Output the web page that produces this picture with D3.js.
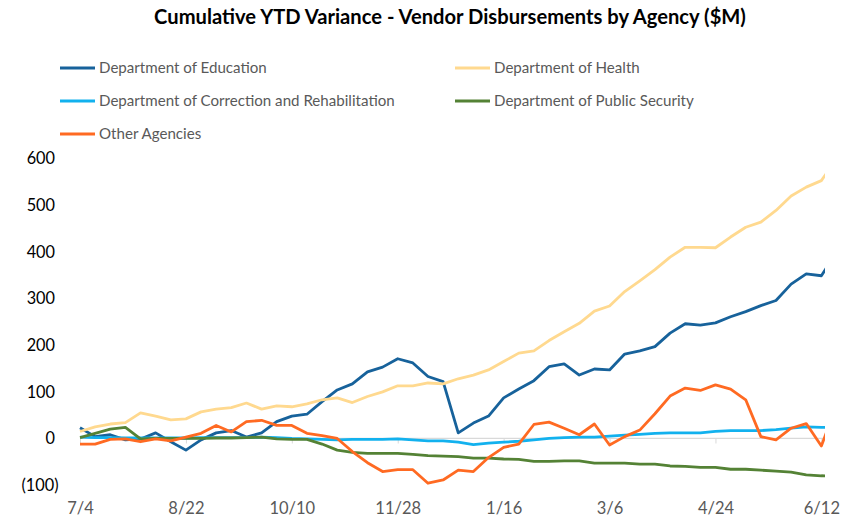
<!DOCTYPE html>
<html>
<head>
<meta charset="utf-8">
<script src="https://cdn.jsdelivr.net/npm/d3@7"></script>
<style>
  html, body { margin: 0; padding: 0; background: #fff; }
  svg { display: block; }
  text { font-family: Lato, "Liberation Sans", sans-serif; }
</style>
</head>
<body>
<div id="chart"></div>
<script>
// ---- data ----
const dates = ["7/4","7/11","7/18","7/25","8/1","8/8","8/15","8/22","8/29","9/5","9/12","9/19","9/26","10/3","10/10","10/17","10/24","10/31","11/7","11/14","11/21","11/28","12/5","12/12","12/19","12/26","1/2","1/9","1/16","1/23","1/30","2/6","2/13","2/20","2/27","3/6","3/13","3/20","3/27","4/3","4/10","4/17","4/24","5/1","5/8","5/15","5/22","5/29","6/5","6/12","6/19"];
const tickDates = ["7/4","8/22","10/10","11/28","1/16","3/6","4/24","6/12"];
const yTicks = [-100, 0, 100, 200, 300, 400, 500, 600];

const education = [23,4,8,-3,-1,12,-7,-25,-3,12,17,3,12,36,48,52,79,104,117,143,153,171,162,133,122,12,33,48,87,106,124,154,160,136,149,147,181,188,197,226,246,243,248,261,272,285,296,331,353,349,400];
const health = [15,25,31,34,55,48,40,42,57,63,66,76,63,70,68,74,83,87,77,90,100,113,113,119,117,128,136,147,165,183,188,210,229,247,273,284,315,338,362,389,410,410,409,432,453,464,489,520,539,553,600];
const correction = [3,2,2,1,1,1,1,1,2,2,2,2,3,2,0,-1,-2,-3,-2,-2,-2,-1,-3,-5,-5,-8,-13,-10,-8,-6,-3,0,2,3,3,5,7,9,11,12,12,12,15,17,17,17,19,22,25,24,24];
const security = [2,11,20,24,-1,0,0,0,0,1,1,2,3,-1,-2,-2,-12,-25,-30,-32,-32,-32,-34,-37,-38,-39,-42,-42,-44,-45,-49,-49,-48,-48,-53,-53,-53,-55,-55,-59,-60,-62,-62,-66,-66,-68,-70,-72,-78,-80,-81];
const other = [-12,-12,-2,-1,-7,-1,-5,3,11,28,14,36,39,28,28,11,6,0,-28,-52,-71,-67,-67,-96,-89,-68,-71,-41,-19,-12,30,35,22,8,31,-14,4,18,53,91,108,103,115,106,83,4,-3,22,32,-16,70];

const seriesNames = ["Department of Education","Department of Health","Department of Correction and Rehabilitation","Department of Public Security","Other Agencies"];
const seriesValues = [education, health, correction, security, other];
const seriesColors = ["#17629B","#FFD98F","#12B1EE","#548235","#FF6A22"];

const title = "Cumulative YTD Variance - Vendor Disbursements by Agency ($M)";

// ---- layout ----
const W = 853, H = 518;
const svg = d3.select("#chart").append("svg").attr("width", W).attr("height", H);

const x = d3.scalePoint().domain(dates).range([80, 80 + 15.13 * (dates.length - 1)]);
const y = d3.scaleLinear().domain([-100, 600]).range([485.1, 158.7]);
const plotRight = x("6/12") + 3.6;

function fit(sel, target) {
  const w = sel.node().getComputedTextLength();
  const fs = parseFloat(sel.attr("font-size"));
  sel.attr("font-size", fs * target / w);
}

// title
const t = svg.append("text").attr("x", 450).attr("y", 24).attr("text-anchor", "middle")
  .attr("font-size", 18).attr("font-weight", "bold").attr("fill", "#000").text(title);
fit(t, 592);

// legend
const legPos = [[60, 68], [455, 68], [60, 101], [455, 101], [60, 134]];
const leg = svg.append("g");
const legTexts = [];
seriesNames.forEach((n, i) => {
  const [lx, ly] = legPos[i];
  leg.append("line").attr("x1", lx).attr("x2", lx + 35).attr("y1", ly).attr("y2", ly)
    .attr("stroke", seriesColors[i]).attr("stroke-width", 3);
  legTexts.push(leg.append("text").attr("x", lx + 39).attr("y", ly).attr("dy", "0.35em")
    .attr("font-size", 14).attr("fill", "#595959").text(n));
});
{
  const w = legTexts[2].node().getComputedTextLength();
  const fs = 14 * 296 / w;
  legTexts.forEach(s => s.attr("font-size", fs));
}

// y axis labels
const yAxis = d3.axisLeft(y).tickValues(yTicks).tickSize(0).tickPadding(0)
  .tickFormat(d => d < 0 ? "(" + Math.abs(d) + ")" : String(d));
const yg = svg.append("g").attr("transform", "translate(55,0)").call(yAxis);
yg.select(".domain").remove();
yg.selectAll("text").attr("font-size", 16.3).attr("fill", "#000")
  .attr("font-family", "Lato, 'Liberation Sans', sans-serif")
  .attr("dx", d => d < 0 ? 3.5 : 0);

// zero axis line with ticks
const y0 = y(0);
const xg = svg.append("g").attr("transform", `translate(0,${y0})`)
  .call(d3.axisBottom(x).tickValues(tickDates).tickSize(5).tickSizeOuter(0).tickFormat(d => d));
xg.select(".domain").remove();
xg.selectAll(".tick line").attr("stroke", "#D9D9D9").attr("stroke-width", 1);
xg.selectAll("text").attr("y", 0).attr("dy", 0).attr("transform", `translate(0,${514 - y0})`)
  .attr("font-size", 16.5).attr("fill", "#595959")
  .attr("font-family", "Lato, 'Liberation Sans', sans-serif");
svg.append("line").attr("x1", x(dates[0])).attr("x2", plotRight).attr("y1", y0).attr("y2", y0)
  .attr("stroke", "#D9D9D9").attr("stroke-width", 1.3);

// lines
svg.append("clipPath").attr("id", "plotclip").append("rect")
  .attr("x", 0).attr("y", 0).attr("width", plotRight).attr("height", H);
const line = d3.line().x((d, i) => x(dates[i])).y(d => y(d));
const lg = svg.append("g").attr("clip-path", "url(#plotclip)");
seriesValues.forEach((vals, i) => {
  lg.append("path").datum(vals).attr("d", line).attr("fill", "none")
    .attr("stroke", seriesColors[i]).attr("stroke-width", 2.8)
    .attr("stroke-linejoin", "round").attr("stroke-linecap", "butt");
});
</script>
</body>
</html>
